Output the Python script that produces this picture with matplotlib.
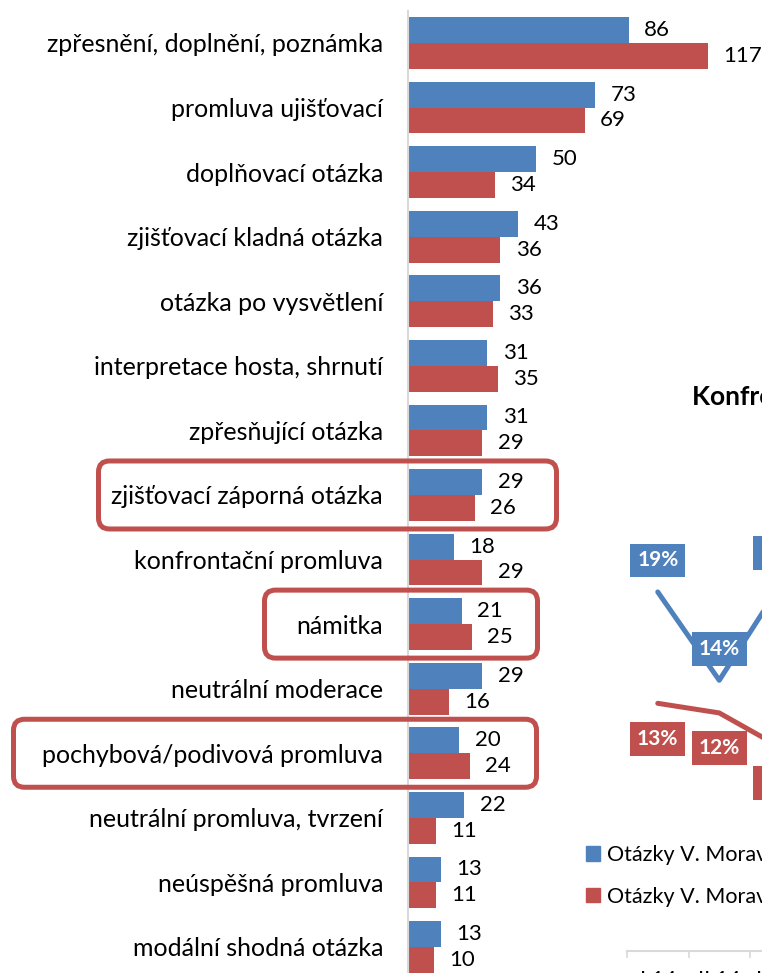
import numpy as np
import matplotlib
matplotlib.use('Agg')
import matplotlib.pyplot as plt
from matplotlib.patches import FancyBboxPatch, Patch

plt.rcParams['font.family'] = ['Lato', 'DejaVu Sans']

# bar chart data
categories = ['zpřesnění, doplnění, poznámka', 'promluva ujišťovací', 'doplňovací otázka',
              'zjišťovací kladná otázka', 'otázka po vysvětlení', 'interpretace hosta, shrnutí',
              'zpřesňující otázka', 'zjišťovací záporná otázka', 'konfrontační promluva',
              'námitka', 'neutrální moderace', 'pochybová/podivová promluva',
              'neutrální promluva, tvrzení', 'neúspěšná promluva', 'modální shodná otázka']
vals_blue = [86, 73, 50, 43, 36, 31, 31, 29, 18, 21, 29, 20, 22, 13, 13]
vals_red = [117, 69, 34, 36, 33, 35, 29, 26, 29, 25, 16, 24, 11, 11, 10]
boxed = ['zjišťovací záporná otázka', 'námitka', 'pochybová/podivová promluva']

# overlapping second chart (cut off at the right edge)
periods = ['I 14', 'II 14', 'III 14']
konf_blue = [18.7, 14.1, 19.1]
konf_red = [12.9, 12.4, 10.6]
series_names = ['Otázky V. Moravce 2014', 'Otázky V. Moravce 2015']
konf_title = 'Konfrontační promluvy'

BLUE = '#4F81BD'
RED = '#C0504D'
GRID = '#D9D9D9'

W, H = 762, 973
fig = plt.figure(figsize=(W / 100, H / 100), dpi=100, facecolor='white')

#...!...!....................
def fig_rect(x0, y0, x1, y1):
    # pixel box (top-left origin) -> figure fraction rect
    return [x0 / W, 1 - y1 / H, (x1 - x0) / W, (y1 - y0) / H]

# ---- horizontal bars
x0px, pxu = 408, 2.564
top, pitch = 10.7, 64.57
n = len(categories)
ax = fig.add_axes(fig_rect(x0px, top, W, top + pitch * n))
y = np.arange(n)
ax.barh(y - 0.2, vals_blue, height=0.4, color=BLUE)
ax.barh(y + 0.2, vals_red, height=0.4, color=RED)
ax.set_xlim(0, (W - x0px) / pxu)
ax.set_ylim(n - 0.5, -0.5)
for s in ['top', 'right', 'bottom']:
    ax.spines[s].set_visible(False)
ax.spines['left'].set_color(GRID)
ax.spines['left'].set_linewidth(1.5)
ax.set_xticks([])
ax.set_yticks(y)
ax.set_yticklabels(categories, fontsize=18)
ax.tick_params(axis='y', length=0, pad=18)
for i in range(n):
    ax.annotate(str(vals_blue[i]), (vals_blue[i], i - 0.2), xytext=(11, 0),
                textcoords='offset points', va='center', ha='left', fontsize=16)
    ax.annotate(str(vals_red[i]), (vals_red[i], i + 0.2), xytext=(11, 0),
                textcoords='offset points', va='center', ha='left', fontsize=16)

# ---- second chart, line with boxed labels
cw = 61.5
ax2 = fig.add_axes(fig_rect(627, 951 - 25 * 19.2, 627 + 3 * cw, 951))
ax2.patch.set_alpha(0)
ax2.plot(range(3), konf_blue, color=BLUE, lw=3.6, solid_capstyle='round')
ax2.plot(range(3), konf_red, color=RED, lw=3.6, solid_capstyle='round')
ax2.set_xlim(-0.5, 2.5)
ax2.set_ylim(0, 25)
for s in ['top', 'right', 'left']:
    ax2.spines[s].set_visible(False)
ax2.spines['bottom'].set_color(GRID)
ax2.spines['bottom'].set_linewidth(1.5)
ax2.set_yticks([])
ax2.set_xticks([-0.5, 0.5, 1.5, 2.5])
ax2.set_xticklabels([])
ax2.tick_params(axis='x', which='major', length=5, width=1.2, color=GRID)
ax2.set_xticks(range(3), minor=True)
ax2.set_xticklabels(periods, minor=True, fontsize=15.5)
ax2.tick_params(axis='x', which='minor', length=0, pad=13.5)
for vals, col, dy in [(konf_blue, BLUE, 22.7), (konf_red, RED, -25.5)]:
    for i, v in enumerate(vals):
        ax2.annotate('%d%%' % round(v), (i, v), xytext=(0, dy), textcoords='offset points',
                     ha='center', va='center', color='white', fontweight='bold', fontsize=15,
                     bbox=dict(boxstyle='square,pad=0.33', fc=col, ec='none'))

# ---- overlay in pixel units: highlight boxes, title, legend
pix = fig.add_axes([0, 0, 1, 1])
pix.set_xlim(0, W)
pix.set_ylim(H, 0)
pix.axis('off')
pix.patch.set_visible(False)

box_x = {'zjišťovací záporná otázka': (98.5, 556.5),
         'námitka': (264.5, 537.5),
         'pochybová/podivová promluva': (13.5, 536.5)}
for name in boxed:
    i = categories.index(name)
    yc = top + pitch * (i + 0.5)
    xa, xb = box_x[name]
    pix.add_patch(FancyBboxPatch((xa, yc - 34), xb - xa, 68,
                                 boxstyle='round,pad=0,rounding_size=11',
                                 fc='none', ec=RED, lw=3.6))

pix.text(692, 397, konf_title, fontsize=19, fontweight='bold', ha='left', va='center')

fig.legend(handles=[Patch(color=BLUE, label=series_names[0]),
                    Patch(color=RED, label=series_names[1])],
           loc='upper left', bbox_to_anchor=(586, 845), bbox_transform=pix.transData,
           frameon=False, fontsize=15.5, handlelength=0.67, handleheight=0.67,
           handletextpad=0.3, labelspacing=1.0, borderpad=0, borderaxespad=0)

fig.savefig('out.png', dpi=100)
print('saved: out.png')
